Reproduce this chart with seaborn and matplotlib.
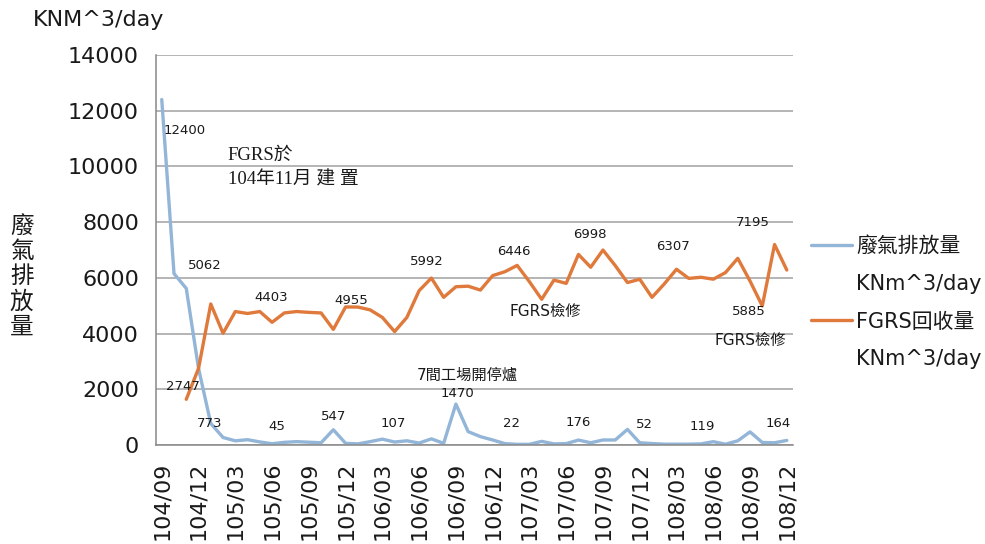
import numpy as np
import matplotlib
matplotlib.use('Agg')
import matplotlib.pyplot as plt
from matplotlib.lines import Line2D
import seaborn as sns
import pandas as pd

# 月份 (民國年/月), 104/09 ~ 108/12
years = [104] * 4 + [105] * 12 + [106] * 12 + [107] * 12 + [108] * 12
mons = list(range(9, 13)) + list(range(1, 13)) * 4
months = [f"{y}/{m:02d}" for y, m in zip(years, mons)]

# 廢氣排放量 KNm^3/day
emission = [12400, 6150, 5620, 2750, 773, 270, 150, 190, 110, 45,
            95, 120, 100, 80, 547, 60, 40, 120, 210, 107,
            150, 70, 220, 60, 1470, 480, 300, 180, 50, 22,
            25, 130, 40, 50, 176, 80, 180, 180, 560, 80,
            52, 30, 30, 30, 40, 119, 30, 150, 470, 90,
            80, 164]

# FGRS回收量 KNm^3/day (104/11 起)
recovery = [np.nan, np.nan, 1640, 2747, 5062, 4010, 4790, 4720, 4790, 4403,
            4740, 4790, 4760, 4740, 4150, 4955, 4950, 4850, 4580, 4070,
            4580, 5540, 5992, 5300, 5680, 5700, 5560, 6080, 6220, 6446,
            5860, 5230, 5920, 5800, 6840, 6380, 6998, 6440, 5830, 5950,
            5300, 5780, 6307, 5980, 6020, 5950, 6190, 6700, 5885, 4990,
            7195, 6280]

df = pd.DataFrame({
    'idx': np.arange(len(months)),
    '月份': months,
    '廢氣排放量': emission,
    'FGRS回收量': recovery,
})

sns.set_style("white")
plt.rcParams['font.family'] = ['DejaVu Sans', 'Noto Sans CJK TC']

blue = '#93B5D8'
orange = '#E07A3C'
txt = '#1a1a1a'

fig = plt.figure(figsize=(9.85, 5.44), dpi=100)
ax = fig.add_axes([0.158, 0.182, 0.647, 0.717])

sns.lineplot(ax=ax, x='idx', y='廢氣排放量', data=df, color=blue, linewidth=2.4)
sns.lineplot(ax=ax, x='idx', y='FGRS回收量', data=df, color=orange, linewidth=2.4)

# 軸設定
ax.set_xlim(-0.5, len(months) - 0.5)
ax.set_ylim(0, 14000)
ax.set_yticks(range(0, 14001, 2000))
ax.tick_params(axis='y', labelsize=16, length=0, pad=12, labelcolor=txt)
ax.grid(axis='y', color='#a0a0a0', linewidth=1.1)
ax.set_axisbelow(True)

major = list(range(0, len(months), 3))
ax.set_xticks(major)
ax.set_xticklabels([months[i] for i in major], rotation=90, fontsize=16, color=txt)
ax.set_xticks(np.arange(-0.5, len(months), 1), minor=True)
ax.tick_params(axis='x', which='major', length=0, pad=12)
ax.tick_params(axis='x', which='minor', length=6, width=1, color='#888888', direction='out')

for s in ['top', 'right']:
    ax.spines[s].set_visible(False)
for s in ['left', 'bottom']:
    ax.spines[s].set_color('#888888')
    ax.spines[s].set_linewidth(1.1)

ax.set_xlabel('')
ax.set_ylabel('')

fig.text(0.033, 0.963, 'KNM^3/day', fontsize=16, color=txt, va='center', ha='left')
fig.text(0.022, 0.492, '\n'.join('廢氣排放量'), fontsize=17, color=txt, va='center', ha='center',
         linespacing=1.05)

# 標註
lab = dict(fontsize=9.5, color=txt, ha='center', va='center')
ax.text(1.9, 11300, '12400', **lab)
ax.text(1.7, 2090, '2747', **lab)
ax.text(3.9, 780, '773', **lab)
ax.text(3.5, 6460, '5062', **lab)
ax.text(8.9, 5310, '4403', **lab)
ax.text(15.5, 5200, '4955', **lab)
ax.text(9.4, 660, '45', **lab)
ax.text(14.0, 1020, '547', **lab)
ax.text(18.9, 780, '107', **lab)
ax.text(24.1, 1860, '1470', **lab)
ax.text(21.6, 6580, '5992', **lab)
ax.text(28.7, 6940, '6446', **lab)
ax.text(28.5, 780, '22', **lab)
ax.text(34.9, 7540, '6998', **lab)
ax.text(34.0, 790, '176', **lab)
ax.text(39.4, 720, '52', **lab)
ax.text(41.7, 7140, '6307', **lab)
ax.text(44.1, 660, '119', **lab)
ax.text(48.2, 8000, '7195', **lab)
ax.text(47.9, 4790, '5885', **lab)
ax.text(50.3, 780, '164', **lab)

note = dict(fontsize=11, color=txt, ha='center', va='center')
ax.text(31.3, 4790, 'FGRS檢修', **note)
ax.text(48.0, 3770, 'FGRS檢修', **note)
ax.text(24.9, 2510, '7間工場開停爐', **note)

serif = ['Liberation Serif', 'Noto Sans CJK TC']
ax.text(5.4, 10400, 'FGRS於', fontsize=13.5, color=txt, ha='left', va='center', family=serif)
ax.text(5.4, 9510, '104年11月 建 置', fontsize=13.5, color=txt, ha='left', va='center', family=serif)

# 圖例 (單位另起一行)
lines = ax.get_lines()
blank = Line2D([], [], color='none')
leg = ax.legend([lines[0], blank, lines[1], blank],
                ['廢氣排放量', 'KNm^3/day', 'FGRS回收量', 'KNm^3/day'],
                loc='upper left', bbox_to_anchor=(0.823, 0.566), bbox_transform=fig.transFigure,
                frameon=False, fontsize=15, handlelength=2.0, handletextpad=0.2,
                labelspacing=0.85, borderaxespad=0, borderpad=0)
for t in leg.get_texts():
    t.set_color(txt)

fig.savefig('out.png', dpi=100)
